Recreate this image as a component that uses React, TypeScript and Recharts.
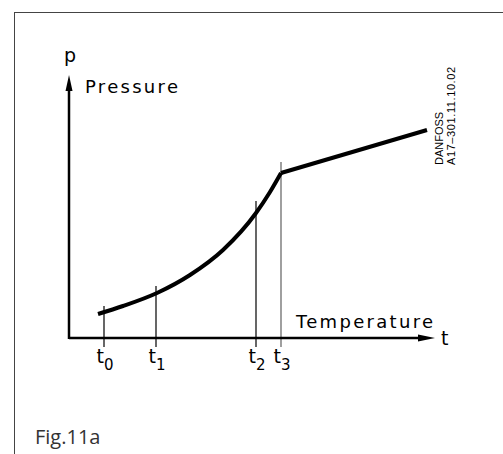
import { LineChart, Line, XAxis, YAxis, ReferenceLine, ReferenceDot } from 'recharts';

// temperature (x) and pressure (y)
const curveT = [29, 54, 88, 121, 154, 187, 201, 212];
const curveP = [24, 32, 45, 63, 88, 125, 146, 165];
const upperT = [212, 358];
const upperP = [165, 208];

const tickT = [35, 87, 187, 212];
const tickSub = ['0', '1', '2', '3'];
const tickTop = [32, 52, 137, 176];

const X_MAX = 366;
const Y_MIN = -9;
const Y_MAX = 263;

const curveData = curveT.map((t, i) => ({ t, p: curveP[i] }));
const upperData = upperT.map((t, i) => ({ t, p: upperP[i] }));

const drawFont = '"DejaVu Sans", sans-serif';

function TTick({ x, y, payload }: any) {
  const i = tickT.indexOf(payload.value);
  return (
    <text x={x - 7.5} y={y + 16} fontSize={19} fontFamily={drawFont} fill="#000">
      t
      <tspan fontSize={15} dy={7}>{tickSub[i]}</tspan>
    </text>
  );
}

function YArrow({ cx, cy }: any) {
  return (
    <g>
      <polygon points={`${cx},${cy} ${cx - 3.5},${cy + 16} ${cx + 3.5},${cy + 16}`} fill="#000" />
      <text x={cx + 1} y={cy - 13} textAnchor="middle" fontSize={19} fontFamily={drawFont} fill="#000">p</text>
      <text x={cx + 16} y={cy + 18} fontSize={18} letterSpacing={2.3} fontFamily={drawFont} fill="#000">
        Pressure
      </text>
    </g>
  );
}

function XArrow({ cx, cy }: any) {
  return (
    <g>
      <polygon points={`${cx},${cy} ${cx - 17},${cy - 3.5} ${cx - 17},${cy + 3.5}`} fill="#000" />
      <text x={cx + 6} y={cy + 7} fontSize={19} fontFamily={drawFont} fill="#000">t</text>
      <text x={cx - 139} y={cy - 10} fontSize={18} letterSpacing={2.3} fontFamily={drawFont} fill="#000">
        Temperature
      </text>
    </g>
  );
}

function Stamp({ cx, cy }: any) {
  const x1 = cx + 16;
  const x2 = cx + 28;
  const y = cy + 35;
  return (
    <g fontFamily='"Liberation Sans", Arial, sans-serif' fontSize={11} fill="#000">
      <text x={x1} y={y} transform={`rotate(-90 ${x1} ${y})`}>DANFOSS</text>
      <text x={x2} y={y} letterSpacing={0.6} transform={`rotate(-90 ${x2} ${y})`}>A17–301.11.10.02</text>
    </g>
  );
}

export default function App() {
  return (
    <div style={{ position: 'relative', width: 503, height: 454, overflow: 'hidden', background: '#fff' }}>
      <style>{'body{margin:0}'}</style>
      <div
        style={{
          position: 'absolute',
          left: 14,
          top: 12,
          width: 600,
          height: 600,
          borderLeft: '1.5px solid #444',
          borderTop: '1.5px solid #444',
        }}
      />
      <div style={{ position: 'absolute', left: 0, top: 0 }}>
        <LineChart width={503} height={454} margin={{ top: 75, right: 68, left: 69, bottom: 77 }}>
          <XAxis
            type="number"
            dataKey="t"
            domain={[0, X_MAX]}
            allowDataOverflow
            ticks={tickT}
            tick={<TTick />}
            tickSize={0}
            tickMargin={0}
            axisLine={false}
            tickLine={false}
            height={30}
            interval={0}
          />
          <YAxis type="number" dataKey="p" domain={[Y_MIN, Y_MAX]} allowDataOverflow hide width={0} />

          {tickT.map((t, i) => (
            <ReferenceLine
              key={t}
              segment={[{ x: t, y: Y_MIN }, { x: t, y: tickTop[i] }]}
              stroke={i === 3 ? '#888' : '#000'}
              strokeWidth={i === 3 ? 1.6 : 1.2}
            />
          ))}

          <ReferenceLine segment={[{ x: 0, y: 0 }, { x: X_MAX - 14, y: 0 }]} stroke="#000" strokeWidth={2.5} />
          <ReferenceLine segment={[{ x: 0, y: -1 }, { x: 0, y: Y_MAX - 14 }]} stroke="#000" strokeWidth={2.5} />

          <Line
            data={curveData}
            dataKey="p"
            type="monotone"
            stroke="#000"
            strokeWidth={4}
            dot={false}
            isAnimationActive={false}
          />
          <Line
            data={upperData}
            dataKey="p"
            type="linear"
            stroke="#000"
            strokeWidth={4}
            dot={false}
            isAnimationActive={false}
          />

          <ReferenceDot x={0} y={Y_MAX} r={0} shape={<YArrow />} />
          <ReferenceDot x={X_MAX} y={0} r={0} shape={<XArrow />} />
          <ReferenceDot x={upperT[1]} y={upperP[1]} r={0} shape={<Stamp />} />
        </LineChart>
      </div>
      <div
        style={{
          position: 'absolute',
          left: 35,
          top: 427,
          fontFamily: '"Open Sans", sans-serif',
          fontSize: 20,
          lineHeight: '20px',
          color: '#333',
        }}
      >
        Fig.11a
      </div>
    </div>
  );
}
